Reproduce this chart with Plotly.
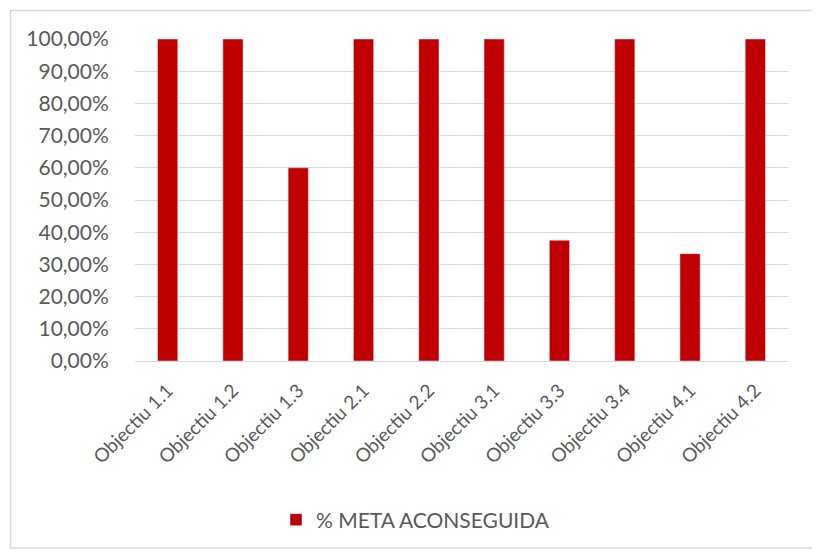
import plotly.graph_objects as go

categories = ["Objectiu 1.1", "Objectiu 1.2", "Objectiu 1.3", "Objectiu 2.1", "Objectiu 2.2",
              "Objectiu 3.1", "Objectiu 3.3", "Objectiu 3.4", "Objectiu 4.1", "Objectiu 4.2"]
values = [1.0, 1.0, 0.60, 1.0, 1.0, 1.0, 0.375, 1.0, 0.3333, 1.0]
series_name = "% META ACONSEGUIDA"

# page body has an 8px margin, so the figure is drawn at (8, 8)
OFF = 8
W, H = 820 - OFF, 552 - OFF
L, R, T, B = 135 - OFF, 32, 39 - OFF, 191
pw, ph = W - L - R, H - T - B

def px2paper_x(px):
    return (px - OFF - L) / pw

def px2paper_y(py):
    return (H - B - (py - OFF)) / ph

fig = go.Figure(go.Bar(
    x=categories, y=values, name=series_name,
    marker=dict(color="#c00000"),
    showlegend=True,
))

font = "Lato, 'Open Sans', sans-serif"

fig.update_layout(
    width=W, height=H,
    margin=dict(l=L, r=R, t=T, b=B),
    paper_bgcolor="white", plot_bgcolor="white",
    separators=",.",
    bargap=0.69,
    font=dict(family=font, size=19, color="#595959"),
    xaxis=dict(tickangle=-45, showgrid=False, showline=True, linecolor="#d9d9d9",
               linewidth=1, ticks="outside", ticklen=10, tickcolor="rgba(0,0,0,0)",
               tickfont=dict(size=19, color="#595959")),
    yaxis=dict(range=[0, 1.0], tick0=0, dtick=0.1, tickformat=".2%",
               showgrid=True, gridcolor="#d9d9d9", gridwidth=1, zeroline=False,
               showline=False, ticks="outside", ticklen=21, tickcolor="rgba(0,0,0,0)",
               tickfont=dict(size=21, color="#595959")),
    legend=dict(orientation="h", x=px2paper_x(276), xanchor="left", y=px2paper_y(520), yanchor="middle",
                font=dict(size=21, color="#595959"), itemwidth=30),
    shapes=[dict(type="rect", xref="paper", yref="paper",
                 x0=px2paper_x(10.5), x1=px2paper_x(817), y0=px2paper_y(548), y1=px2paper_y(10.5),
                 line=dict(color="#d9d9d9", width=1.5), fillcolor="rgba(0,0,0,0)", layer="below")],
)

fig.write_html("out.html")
